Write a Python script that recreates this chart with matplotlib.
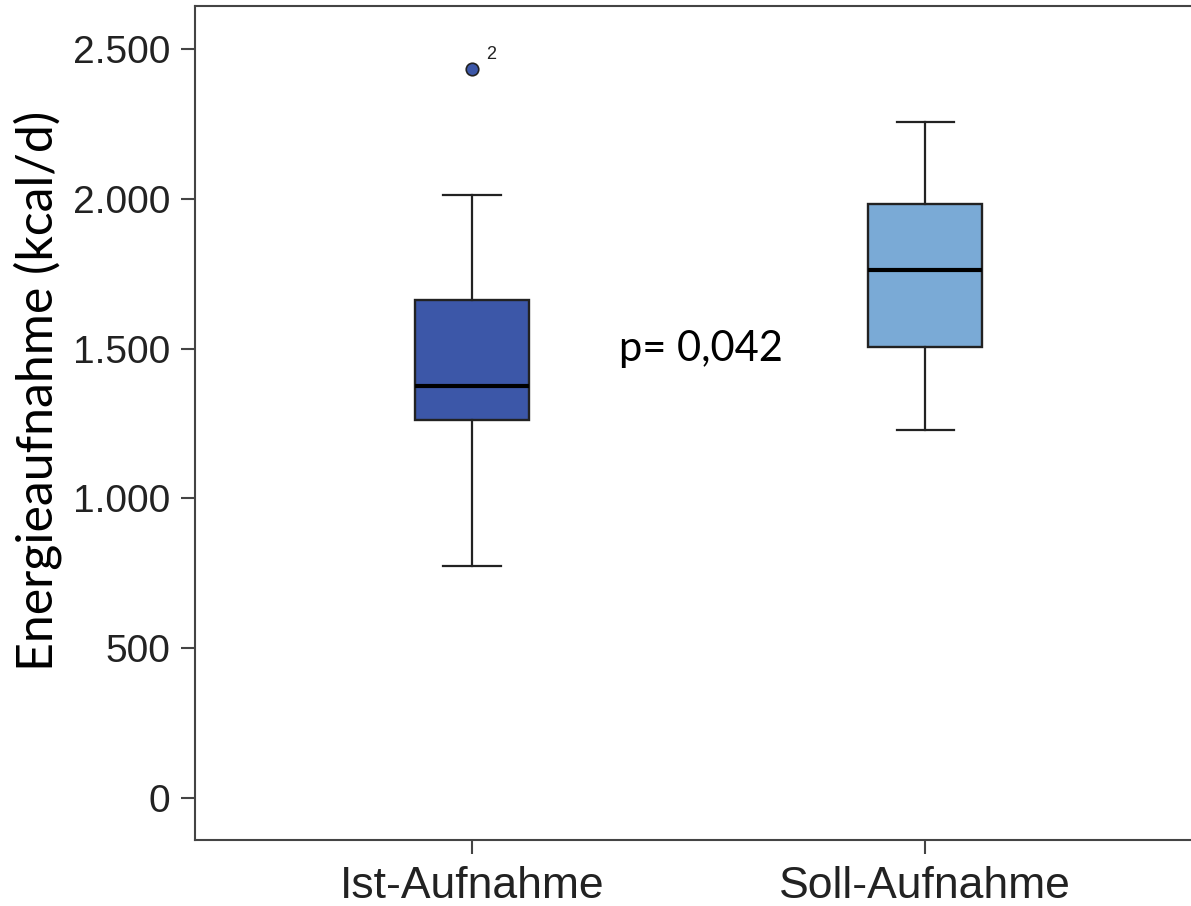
import matplotlib.pyplot as plt

# Werte (kcal/d)
gruppen = ['Ist-Aufnahme', 'Soll-Aufnahme']
q1 = [1262, 1505]
median = [1375, 1762]
q3 = [1662, 1983]
whisker_unten = [774, 1228]
whisker_oben = [2013, 2256]
ausreisser = [[2433], []]
ausreisser_label = ['2']
farben = ['#3C57A8', '#7AAAD6']
yticks = [0, 500, 1000, 1500, 2000, 2500]
ytick_labels = ['0', '500', '1.000', '1.500', '2.000', '2.500']
p_text = 'p= 0,042'

stats = []
for i, g in enumerate(gruppen):
    stats.append({
        'label': g, 'med': median[i], 'q1': q1[i], 'q3': q3[i],
        'whislo': whisker_unten[i], 'whishi': whisker_oben[i],
        'fliers': ausreisser[i],
    })

fig = plt.figure(figsize=(11.91, 9.06), dpi=100)
ax = fig.add_axes([0.1637, 0.0728, 0.8363, 0.9211])

bp = ax.bxp(stats, positions=[1, 2], widths=0.252, patch_artist=True,
            boxprops=dict(edgecolor='#222222', linewidth=1.7),
            whiskerprops=dict(color='#222222', linewidth=1.6),
            capprops=dict(color='#222222', linewidth=1.6),
            medianprops=dict(color='black', linewidth=3),
            flierprops=dict(marker='o', markerfacecolor=farben[0],
                            markeredgecolor='#222222', markersize=9,
                            markeredgewidth=1.2))
for patch, c in zip(bp['boxes'], farben):
    patch.set_facecolor(c)

# Ausreißer-Nummer
ax.annotate(ausreisser_label[0], xy=(1, ausreisser[0][0]), xytext=(10, 7),
            textcoords='offset points', fontsize=13, color='#222222',
            fontfamily='Liberation Sans')

ax.text(1.505, 1500, p_text, fontsize=30, fontfamily='Lato',
        ha='center', va='center')

ax.set_xlim(0.3885, 2.587)
ax.set_ylim(-140, 2645)
ax.set_yticks(yticks)
ax.set_yticklabels(ytick_labels)
ax.set_xticks([1, 2])
ax.set_xticklabels(gruppen)
for lab in ax.get_yticklabels():
    lab.set_fontfamily('Liberation Sans')
    lab.set_fontsize(28)
    lab.set_color('#222222')
for lab in ax.get_xticklabels():
    lab.set_fontfamily('Liberation Sans')
    lab.set_fontsize(32)
    lab.set_color('#222222')
ax.tick_params(axis='both', length=10, width=1.5, color='#444444', pad=8)
ax.tick_params(axis='x', pad=9)

ax.set_ylabel('Energieaufnahme (kcal/d)', fontsize=36, fontfamily='Lato')
ax.yaxis.set_label_coords(-0.1335, 0.5377)

for s in ['left', 'bottom', 'top']:
    ax.spines[s].set_color('#444444')
    ax.spines[s].set_linewidth(1.5)
ax.spines['right'].set_visible(False)

fig.savefig('out.png', dpi=100)
